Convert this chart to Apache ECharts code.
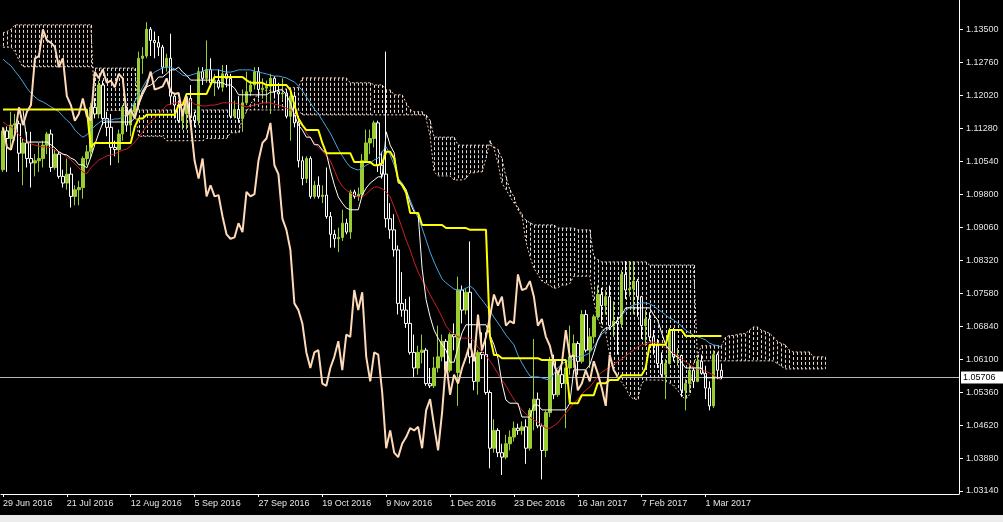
<!DOCTYPE html>
<html><head><meta charset="utf-8">
<script src="https://cdn.jsdelivr.net/npm/echarts@6/dist/echarts.min.js"></script>
<style>html,body{margin:0;padding:0;background:#000;overflow:hidden}#c{width:1003px;height:522px}</style>
</head><body><div id="c"></div>
<script>
// ---------- tick labels ----------
const tickLabels = ['29 Jun 2016','21 Jul 2016','12 Aug 2016','5 Sep 2016','27 Sep 2016','19 Oct 2016','9 Nov 2016','1 Dec 2016','23 Dec 2016','16 Jan 2017','7 Feb 2017','1 Mar 2017'];
const tickIdx = [0,16,32,48,64,80,96,112,128,144,160,176];
const priceTicks = [1.0314,1.0388,1.0462,1.0536,1.0610,1.0684,1.0758,1.0832,1.0906,1.0980,1.1054,1.1128,1.1202,1.1276,1.1350];
const lastPrice = 1.05706;
const slotCount = 240;

// ---------- daily candles [open, high, low, close] ----------
const candles = [
[1.1035,1.1130,1.1030,1.1122],[1.1122,1.1132,1.1030,1.1105],[1.1105,1.1165,1.1080,1.1135],[1.1135,1.1160,1.1100,1.1138],[1.1138,1.1145,1.1030,1.1072],
[1.1072,1.1105,1.1000,1.1095],[1.1095,1.1120,1.1040,1.1060],[1.1060,1.1120,1.0995,1.1050],[1.1050,1.1070,1.1020,1.1055],[1.1055,1.1095,1.1030,1.1060],
[1.1060,1.1100,1.1040,1.1090],[1.1090,1.1120,1.1070,1.1115],[1.1115,1.1125,1.1030,1.1040],[1.1040,1.1080,1.1035,1.1070],[1.1070,1.1075,1.1015,1.1020],
[1.1020,1.1035,1.0995,1.1005],[1.1005,1.1060,1.0990,1.1025],[1.1025,1.1040,1.0950,1.0975],[1.0975,1.1000,1.0955,1.0990],[1.0990,1.1010,1.0955,1.0995],
[1.0995,1.1065,1.0970,1.1060],[1.1060,1.1090,1.1045,1.1075],[1.1075,1.1185,1.1060,1.1175],[1.1175,1.1195,1.1150,1.1160],[1.1160,1.1235,1.1150,1.1225],
[1.1225,1.1235,1.1135,1.1150],[1.1150,1.1165,1.1110,1.1130],[1.1130,1.1160,1.1045,1.1085],[1.1085,1.1100,1.1065,1.1080],[1.1080,1.1125,1.1050,1.1115],
[1.1115,1.1180,1.1100,1.1175],[1.1175,1.1178,1.1120,1.1135],[1.1135,1.1170,1.1110,1.1165],[1.1165,1.1190,1.1155,1.1180],[1.1180,1.1300,1.1170,1.1285],
[1.1285,1.1310,1.1250,1.1290],[1.1290,1.1366,1.1285,1.1350],[1.1350,1.1355,1.1290,1.1325],[1.1325,1.1345,1.1285,1.1320],[1.1320,1.1335,1.1290,1.1310],
[1.1310,1.1315,1.1250,1.1265],[1.1265,1.1295,1.1255,1.1285],[1.1285,1.1340,1.1180,1.1200],[1.1200,1.1205,1.1150,1.1180],[1.1180,1.1190,1.1140,1.1145],
[1.1145,1.1165,1.1125,1.1160],[1.1160,1.1205,1.1125,1.1195],[1.1195,1.1225,1.1150,1.1155],[1.1155,1.1165,1.1130,1.1145],[1.1145,1.1265,1.1135,1.1255],
[1.1255,1.1265,1.1225,1.1240],[1.1240,1.1325,1.1230,1.1260],[1.1260,1.1285,1.1220,1.1230],[1.1230,1.1250,1.1200,1.1235],[1.1235,1.1260,1.1215,1.1220],
[1.1220,1.1270,1.1210,1.1250],[1.1250,1.1270,1.1220,1.1240],[1.1240,1.1250,1.1150,1.1155],[1.1155,1.1190,1.1150,1.1170],[1.1170,1.1200,1.1140,1.1150],
[1.1150,1.1215,1.1120,1.1185],[1.1185,1.1255,1.1180,1.1210],[1.1210,1.1235,1.1200,1.1225],[1.1225,1.1265,1.1215,1.1255],[1.1255,1.1265,1.1195,1.1215],
[1.1215,1.1240,1.1195,1.1218],[1.1218,1.1235,1.1190,1.1222],[1.1222,1.1250,1.1160,1.1240],[1.1240,1.1245,1.1195,1.1210],[1.1210,1.1230,1.1180,1.1205],
[1.1205,1.1240,1.1190,1.1207],[1.1207,1.1215,1.1150,1.1155],[1.1155,1.1205,1.1100,1.1200],[1.1200,1.1210,1.1130,1.1140],[1.1140,1.1155,1.1040,1.1055],
[1.1055,1.1065,1.1000,1.1015],[1.1015,1.1065,1.1005,1.1060],[1.1060,1.1065,1.0970,1.0975],[1.0975,1.1010,1.0970,1.1000],[1.1000,1.1020,1.0970,1.0975],
[1.0975,1.1000,1.0960,1.0978],[1.0978,1.1040,1.0925,1.0930],[1.0930,1.0940,1.0860,1.0890],[1.0890,1.0900,1.0860,1.0880],[1.0880,1.0905,1.0850,1.0883],
[1.0883,1.0945,1.0875,1.0915],[1.0915,1.0925,1.0890,1.0895],[1.0895,1.0990,1.0880,1.0985],[1.0985,1.0990,1.0970,1.0975],[1.0975,1.0995,1.0965,1.0980],
[1.0980,1.1070,1.0975,1.1055],[1.1055,1.1125,1.1050,1.1095],[1.1095,1.1125,1.1070,1.1105],[1.1105,1.1145,1.1085,1.1140],[1.1140,1.1145,1.1030,1.1045],
[1.1045,1.1075,1.1015,1.1025],[1.1025,1.1300,1.0905,1.0925],[1.0925,1.0960,1.0880,1.0900],[1.0900,1.0935,1.0840,1.0855],[1.0855,1.0865,1.0710,1.0735],
[1.0735,1.0805,1.0705,1.0720],[1.0720,1.0745,1.0680,1.0690],[1.0690,1.0750,1.0620,1.0625],[1.0625,1.0665,1.0570,1.0590],[1.0590,1.0640,1.0575,1.0625],
[1.0625,1.0665,1.0600,1.0630],[1.0630,1.0635,1.0550,1.0555],[1.0555,1.0590,1.0545,1.0550],[1.0550,1.0615,1.0545,1.0590],[1.0590,1.0685,1.0580,1.0615],
[1.0615,1.0665,1.0605,1.0650],[1.0650,1.0655,1.0580,1.0585],[1.0585,1.0670,1.0580,1.0665],[1.0665,1.0690,1.0630,1.0660],[1.0580,1.0795,1.0505,1.0765],
[1.0765,1.0775,1.0690,1.0720],[1.0720,1.0770,1.0710,1.0760],[1.0760,1.0874,1.0600,1.0615],[1.0615,1.0620,1.0540,1.0560],[1.0560,1.0630,1.0530,1.0625],
[1.0625,1.0670,1.0610,1.0620],[1.0620,1.0670,1.0530,1.0535],[1.0535,1.0540,1.0365,1.0410],[1.0410,1.0475,1.0400,1.0450],[1.0450,1.0455,1.0390,1.0400],
[1.0400,1.0420,1.0350,1.0390],[1.0390,1.0440,1.0385,1.0420],[1.0420,1.0450,1.0405,1.0435],[1.0435,1.0470,1.0425,1.0455],[1.0455,1.0465,1.0440,1.0450],
[1.0450,1.0470,1.0440,1.0458],[1.0458,1.0475,1.0375,1.0410],[1.0410,1.0500,1.0405,1.0495],[1.0495,1.0655,1.0450,1.0520],[1.0520,1.0535,1.0455,1.0460],
[1.0460,1.0465,1.0340,1.0405],[1.0405,1.0495,1.0390,1.0490],[1.0490,1.0615,1.0480,1.0605],[1.0605,1.0620,1.0520,1.0530],[1.0530,1.0585,1.0525,1.0575],
[1.0575,1.0600,1.0545,1.0555],[1.0555,1.0590,1.0455,1.0590],[1.0590,1.0685,1.0575,1.0615],[1.0615,1.0665,1.0590,1.0645],[1.0645,1.0650,1.0575,1.0605],
[1.0605,1.0720,1.0600,1.0710],[1.0710,1.0720,1.0625,1.0630],[1.0630,1.0680,1.0590,1.0660],[1.0660,1.0710,1.0645,1.0705],[1.0705,1.0775,1.0700,1.0755],
[1.0755,1.0770,1.0690,1.0730],[1.0730,1.0765,1.0710,1.0750],[1.0750,1.0775,1.0675,1.0685],[1.0685,1.0740,1.0660,1.0695],[1.0695,1.0705,1.0620,1.0690],
[1.0690,1.0810,1.0680,1.0800],[1.0800,1.0830,1.0745,1.0765],[1.0765,1.0830,1.0750,1.0768],[1.0768,1.0830,1.0710,1.0785],[1.0785,1.0790,1.0705,1.0750],
[1.0750,1.0752,1.0655,1.0685],[1.0685,1.0720,1.0640,1.0700],[1.0700,1.0715,1.0650,1.0660],[1.0660,1.0675,1.0620,1.0640],[1.0640,1.0655,1.0590,1.0600],
[1.0600,1.0625,1.0570,1.0575],[1.0575,1.0610,1.0520,1.0600],[1.0600,1.0680,1.0598,1.0675],[1.0675,1.0680,1.0605,1.0615],[1.0615,1.0635,1.0595,1.0618],
[1.0618,1.0620,1.0525,1.0540],[1.0540,1.0565,1.0495,1.0555],[1.0555,1.0600,1.0535,1.0585],[1.0585,1.0590,1.0545,1.0560],[1.0560,1.0615,1.0558,1.0605],
[1.0605,1.0620,1.0575,1.0578],[1.0578,1.0595,1.0520,1.0545],[1.0545,1.0560,1.0495,1.0505],[1.0505,1.0630,1.0500,1.0620],[1.0620,1.0625,1.0565,1.0585],
[1.0585,1.0600,1.0565,1.05706]
];

// ---------- Ichimoku lines ----------
const tenkan = [
1.1170,1.1170,1.1170,1.1170,1.1170,1.1170,1.1097,1.1097,1.1097,1.1097,
1.1097,1.1097,1.1091,1.1084,1.1075,1.1070,1.1068,1.1061,1.1057,1.1046,
1.1046,1.1039,1.1063,1.1091,1.1117,1.1140,1.1142,1.1142,1.1142,1.1142,
1.1142,1.1142,1.1142,1.1151,1.1180,1.1203,1.1221,1.1225,1.1232,1.1243,
1.1243,1.1250,1.1259,1.1259,1.1265,1.1254,1.1247,1.1236,1.1236,1.1236,
1.1236,1.1236,1.1236,1.1230,1.1230,1.1230,1.1225,1.1225,1.1218,1.1203,
1.1203,1.1203,1.1203,1.1203,1.1203,1.1203,1.1203,1.1209,1.1209,1.1214,
1.1214,1.1203,1.1185,1.1158,1.1135,1.1124,1.1108,1.1108,1.1091,1.1091,
1.1079,1.1072,1.1034,1.1001,1.0974,1.0960,1.0949,1.0945,1.0945,1.0945,
1.0978,1.0994,1.1005,1.1012,1.1019,1.1019,1.1120,1.1090,1.1073,1.1005,
1.1003,1.0990,1.0960,1.0940,1.0935,1.0813,1.0743,1.0705,1.0675,1.0657,
1.0642,1.0630,1.0603,1.0603,1.0637,1.0669,1.0687,1.0687,1.0687,1.0687,
1.0687,1.0687,1.0664,1.0642,1.0612,1.0556,1.0518,1.0511,1.0511,1.0511,
1.0480,1.0480,1.0480,1.0507,1.0507,1.0496,1.0496,1.0496,1.0496,1.0496,
1.0496,1.0496,1.0511,1.0586,1.0586,1.0586,1.0586,1.0597,1.0624,1.0653,
1.0671,1.0680,1.0680,1.0687,1.0698,1.0709,1.0725,1.0725,1.0725,1.0725,
1.0725,1.0725,1.0725,1.0709,1.0698,1.0669,1.0642,1.0630,1.0619,1.0615,
1.0603,1.0590,1.0590,1.0590,1.0590,1.0590,1.0568,1.0568,1.0568,1.0568,
1.0568
];
const kijun = [
1.1170,1.1170,1.1170,1.1170,1.1170,1.1170,1.1170,1.1170,1.1170,1.1170,
1.1170,1.1170,1.1170,1.1170,1.1170,1.1170,1.1170,1.1170,1.1170,1.1170,
1.1170,1.1170,1.1085,1.1095,1.1095,1.1095,1.1095,1.1095,1.1095,1.1095,
1.1095,1.1095,1.1095,1.1131,1.1150,1.1150,1.1158,1.1158,1.1158,1.1158,
1.1158,1.1158,1.1158,1.1158,1.1180,1.1180,1.1205,1.1205,1.1205,1.1205,
1.1205,1.1205,1.1225,1.1243,1.1243,1.1243,1.1243,1.1243,1.1243,1.1243,
1.1243,1.1236,1.1230,1.1230,1.1230,1.1230,1.1225,1.1225,1.1225,1.1225,
1.1225,1.1225,1.1214,1.1180,1.1150,1.1135,1.1124,1.1124,1.1124,1.1124,
1.1095,1.1072,1.1072,1.1072,1.1072,1.1072,1.1072,1.1072,1.1052,1.1052,
1.1052,1.1052,1.1052,1.1045,1.1045,1.1050,1.1075,1.1075,1.1060,1.1012,
1.1000,1.0983,1.0938,1.0938,1.0938,1.0911,1.0911,1.0911,1.0911,1.0911,
1.0911,1.0904,1.0904,1.0904,1.0904,1.0904,1.0904,1.0900,1.0900,1.0900,
1.0900,1.0900,1.0660,1.0619,1.0619,1.0612,1.0612,1.0612,1.0612,1.0612,
1.0612,1.0612,1.0612,1.0612,1.0612,1.0608,1.0608,1.0608,1.0608,1.0608,
1.0608,1.0608,1.0511,1.0511,1.0511,1.0529,1.0529,1.0529,1.0529,1.0556,
1.0556,1.0556,1.0563,1.0563,1.0563,1.0574,1.0574,1.0574,1.0574,1.0574,
1.0574,1.0590,1.0642,1.0642,1.0642,1.0642,1.0642,1.0675,1.0675,1.0675,
1.0675,1.0662,1.0662,1.0662,1.0662,1.0662,1.0662,1.0662,1.0662,1.0662,
1.0662
];
// Senkou spans (already shifted 26 bars forward, 207 bars)
const spanA = [
1.1342,1.1345,1.1350,1.1360,1.1360,1.1360,1.1360,1.1360,1.1360,1.1360,
1.1360,1.1360,1.1360,1.1360,1.1360,1.1360,1.1360,1.1360,1.1360,1.1360,
1.1360,1.1360,1.1360,1.1168,1.1168,1.1168,1.1168,1.1168,1.1168,1.1168,
1.1168,1.1168,1.1168,1.1168,1.1110,1.1110,1.1110,1.1110,1.1110,1.1110,
1.1110,1.1100,1.1100,1.1100,1.1100,1.1100,1.1100,1.1100,1.1100,1.1100,
1.1100,1.1105,1.1105,1.1105,1.1105,1.1105,1.1105,1.1118,1.1118,1.1118,
1.1150,1.1165,1.1182,1.1195,1.1205,1.1213,1.1213,1.1213,1.1213,1.1213,
1.1216,1.1216,1.1219,1.1219,1.1219,1.1241,1.1241,1.1241,1.1241,1.1241,
1.1241,1.1241,1.1241,1.1241,1.1241,1.1241,1.1241,1.1230,1.1230,1.1230,
1.1230,1.1230,1.1230,1.1225,1.1225,1.1225,1.1214,1.1214,1.1203,1.1203,
1.1203,1.1185,1.1170,1.1165,1.1165,1.1165,1.1150,1.1110,1.1030,1.1021,
1.1021,1.1021,1.1021,1.1012,1.1012,1.1012,1.1015,1.1028,1.1028,1.1030,
1.1030,1.1060,1.1100,1.1083,1.1050,1.1005,1.0990,1.0975,1.0960,1.0950,
1.0935,1.0874,1.0840,1.0814,1.0800,1.0785,1.0780,1.0775,1.0769,1.0770,
1.0776,1.0776,1.0780,1.0796,1.0796,1.0796,1.0796,1.0796,1.0740,1.0700,
1.0680,1.0669,1.0620,1.0590,1.0565,1.0558,1.0545,1.0527,1.0520,1.0520,
1.0556,1.0563,1.0563,1.0563,1.0563,1.0563,1.0560,1.0556,1.0550,1.0540,
1.0527,1.0520,1.0530,1.0600,1.0620,1.0640,1.0640,1.0640,1.0640,1.0640,
1.0640,1.0659,1.0663,1.0663,1.0665,1.0667,1.0667,1.0675,1.0682,1.0682,
1.0675,1.0672,1.0668,1.0660,1.0650,1.0645,1.0642,1.0630,1.0626,1.0626,
1.0626,1.0626,1.0626,1.0615,1.0615,1.0615,1.0615
];
const spanB = [
1.1310,1.1310,1.1310,1.1300,1.1281,1.1266,1.1266,1.1266,1.1266,1.1266,
1.1266,1.1266,1.1266,1.1266,1.1266,1.1266,1.1266,1.1266,1.1266,1.1266,
1.1266,1.1266,1.1266,1.1263,1.1263,1.1263,1.1263,1.1263,1.1263,1.1263,
1.1263,1.1263,1.1263,1.1263,1.1169,1.1169,1.1169,1.1169,1.1169,1.1169,
1.1169,1.1169,1.1169,1.1169,1.1169,1.1169,1.1169,1.1169,1.1169,1.1169,
1.1169,1.1169,1.1169,1.1169,1.1169,1.1169,1.1169,1.1169,1.1169,1.1169,
1.1169,1.1169,1.1169,1.1169,1.1169,1.1169,1.1169,1.1169,1.1169,1.1169,
1.1169,1.1169,1.1169,1.1169,1.1169,1.1158,1.1158,1.1158,1.1158,1.1158,
1.1158,1.1158,1.1158,1.1158,1.1158,1.1158,1.1158,1.1158,1.1158,1.1158,
1.1158,1.1158,1.1158,1.1158,1.1158,1.1158,1.1158,1.1158,1.1158,1.1158,
1.1158,1.1158,1.1158,1.1158,1.1158,1.1158,1.1158,1.1145,1.1108,1.1108,
1.1108,1.1108,1.1108,1.1108,1.1090,1.1090,1.1090,1.1090,1.1090,1.1090,
1.1090,1.1090,1.1090,1.1086,1.1080,1.1060,1.1019,1.0990,1.0974,1.0945,
1.0930,1.0922,1.0916,1.0911,1.0911,1.0911,1.0911,1.0911,1.0911,1.0904,
1.0904,1.0904,1.0904,1.0904,1.0900,1.0900,1.0900,1.0900,1.0840,1.0833,
1.0828,1.0828,1.0828,1.0828,1.0828,1.0828,1.0828,1.0828,1.0828,1.0828,
1.0828,1.0828,1.0821,1.0821,1.0821,1.0821,1.0821,1.0821,1.0821,1.0821,
1.0821,1.0821,1.0821,1.0821,1.0606,1.0606,1.0606,1.0606,1.0606,1.0606,
1.0606,1.0606,1.0606,1.0606,1.0606,1.0606,1.0606,1.0606,1.0606,1.0606,
1.0606,1.0606,1.0606,1.0606,1.0600,1.0594,1.0588,1.0588,1.0588,1.0588,
1.0588,1.0588,1.0588,1.0588,1.0588,1.0588,1.0588
];
// two moving averages
const maBlue = [
1.1283,1.1275,1.1268,1.1256,1.1245,1.1232,1.1218,1.1207,1.1198,1.1191,
1.1187,1.1182,1.1176,1.1171,1.1165,1.1155,1.1146,1.1138,1.1124,1.1115,
1.1108,1.1113,1.1124,1.1133,1.1140,1.1146,1.1146,1.1146,1.1149,1.1149,
1.1153,1.1160,1.1173,1.1187,1.1205,1.1220,1.1236,1.1247,1.1254,1.1259,
1.1263,1.1265,1.1265,1.1261,1.1254,1.1247,1.1245,1.1247,1.1250,1.1252,
1.1256,1.1259,1.1259,1.1259,1.1259,1.1256,1.1254,1.1254,1.1256,1.1259,
1.1259,1.1259,1.1259,1.1256,1.1254,1.1252,1.1250,1.1247,1.1245,1.1245,
1.1243,1.1241,1.1236,1.1232,1.1223,1.1212,1.1198,1.1185,1.1171,1.1160,
1.1146,1.1131,1.1117,1.1099,1.1081,1.1066,1.1052,1.1041,1.1037,1.1034,
1.1039,1.1045,1.1050,1.1057,1.1061,1.1075,1.1086,1.1068,1.1045,1.1016,
1.1005,1.0989,1.0967,1.0945,1.0927,1.0904,1.0877,1.0850,1.0828,1.0808,
1.0790,1.0781,1.0774,1.0767,1.0765,1.0765,1.0769,1.0774,1.0767,1.0754,
1.0743,1.0731,1.0718,1.0704,1.0691,1.0678,1.0664,1.0653,1.0642,1.0619,
1.0601,1.0586,1.0572,1.0570,1.0570,1.0568,1.0565,1.0563,1.0577,1.0590,
1.0599,1.0604,1.0608,1.0610,1.0615,1.0617,1.0619,1.0624,1.0637,1.0651,
1.0666,1.0673,1.0680,1.0687,1.0698,1.0709,1.0718,1.0727,1.0731,1.0734,
1.0736,1.0736,1.0734,1.0729,1.0722,1.0716,1.0709,1.0702,1.0698,1.0691,
1.0684,1.0675,1.0669,1.0664,1.0660,1.0657,1.0653,1.0646,1.0642,1.0640,
1.0637
];
const maRed = [
1.1142,1.1135,1.1131,1.1124,1.1113,1.1104,1.1097,1.1093,1.1090,1.1088,
1.1086,1.1086,1.1084,1.1079,1.1075,1.1070,1.1064,1.1057,1.1048,1.1039,
1.1030,1.1026,1.1039,1.1048,1.1057,1.1061,1.1066,1.1068,1.1070,1.1075,
1.1079,1.1081,1.1088,1.1097,1.1108,1.1120,1.1133,1.1142,1.1151,1.1160,
1.1169,1.1180,1.1182,1.1185,1.1185,1.1187,1.1189,1.1189,1.1182,1.1180,
1.1178,1.1178,1.1180,1.1180,1.1182,1.1185,1.1185,1.1185,1.1185,1.1182,
1.1178,1.1176,1.1178,1.1180,1.1182,1.1185,1.1185,1.1185,1.1182,1.1180,
1.1178,1.1173,1.1169,1.1162,1.1151,1.1137,1.1117,1.1106,1.1095,1.1086,
1.1077,1.1066,1.1055,1.1034,1.1012,1.0998,1.0989,1.0983,1.0978,1.0974,
1.0974,1.0980,1.0989,1.0996,1.0996,1.0992,1.0985,1.0974,1.0951,1.0929,
1.0904,1.0877,1.0855,1.0828,1.0805,1.0787,1.0772,1.0754,1.0738,1.0722,
1.0704,1.0684,1.0673,1.0666,1.0660,1.0657,1.0657,1.0657,1.0651,1.0637,
1.0626,1.0617,1.0606,1.0592,1.0577,1.0563,1.0550,1.0534,1.0520,1.0507,
1.0496,1.0487,1.0480,1.0473,1.0469,1.0462,1.0455,1.0455,1.0460,1.0467,
1.0478,1.0489,1.0500,1.0511,1.0520,1.0531,1.0541,1.0547,1.0559,1.0572,
1.0581,1.0586,1.0592,1.0599,1.0604,1.0610,1.0617,1.0624,1.0630,1.0637,
1.0642,1.0644,1.0648,1.0648,1.0646,1.0642,1.0635,1.0630,1.0624,1.0617,
1.0610,1.0604,1.0597,1.0592,1.0588,1.0586,1.0583,1.0579,1.0574,1.0568,
1.0563
];
const chikouShift = 26;

// ---------- build ----------
const slots = [];
for (let i = 0; i < slotCount; i++) slots.push(String(i));
const candleData = candles.map(c => [c[0], c[3], c[2], c[1]]);
const chikou = candles.slice(chikouShift).map(c => c[3]);
const cloudData = spanA.map((a, i) => [i, a, spanB[i]]);

const font = 'Liberation Sans, Arial, sans-serif';
const isTick = i => tickIdx.indexOf(i) >= 0;
const stripRect = {type: 'rect', shape: {x: 0, y: 515, width: 1003, height: 7}, style: {fill: '#ececec'}, z: 100};

const chart = echarts.init(document.getElementById('c'), null, {renderer: 'canvas'});
chart.setOption({
  backgroundColor: '#000',
  animation: false,
  grid: {left: -3, right: 44, top: 0, bottom: 28, containLabel: false},
  xAxis: {
    type: 'category', data: slots, boundaryGap: true,
    axisLine: {show: true, lineStyle: {color: '#ffffff', width: 1}},
    axisTick: {show: true, alignWithLabel: true, length: 3, interval: (i) => isTick(i), lineStyle: {color: '#ffffff'}},
    axisLabel: {show: true, interval: (i) => isTick(i), align: 'left', margin: 5, color: '#e4e4e4', fontSize: 9, fontFamily: font,
      formatter: (v) => { const k = tickIdx.indexOf(Number(v)); return k >= 0 ? tickLabels[k] : ''; }},
    splitLine: {show: false}
  },
  yAxis: {
    type: 'value', position: 'right', min: 1.030727, max: 1.141575, scale: true,
    axisLine: {show: true, lineStyle: {color: '#ffffff', width: 1}},
    axisTick: {show: true, length: 4, customValues: priceTicks, lineStyle: {color: '#ffffff'}},
    axisLabel: {show: true, customValues: priceTicks, margin: 7, color: '#e4e4e4', fontSize: 9, fontFamily: font,
      formatter: (v) => v.toFixed(5)},
    splitLine: {show: false}
  },
  graphic: [stripRect],
  series: [
    {
      type: 'custom', name: 'cloud', z: 1, silent: true, clip: true,
      data: cloudData, encode: {x: 0, y: [1, 2]},
      renderItem: function (params, api) {
        const i = api.value(0), a = api.value(1), b = api.value(2);
        const p1 = api.coord([i, a]), p2 = api.coord([i, b]);
        const x = Math.round(p1[0]) + 0.5;
        return {type: 'line', shape: {x1: x, y1: Math.min(p1[1], p2[1]), x2: x, y2: Math.max(p1[1], p2[1])},
          style: {stroke: a >= b ? '#e8d6cc' : '#dcdcdc', lineWidth: 1, lineDash: [3, 2]}};
      }
    },
    {type: 'line', name: 'spanA', data: spanA, z: 2, symbol: 'none', silent: true,
      lineStyle: {color: '#f4c8a8', width: 1, type: [2, 2]}},
    {type: 'line', name: 'spanB', data: spanB, z: 2, symbol: 'none', silent: true,
      lineStyle: {color: '#f0d8d0', width: 1, type: [2, 2]}},
    {
      type: 'candlestick', name: 'price', data: candleData, z: 3, barWidth: 3,
      itemStyle: {color: '#9acd32', borderColor: '#9acd32', color0: '#000000', borderColor0: '#ffffff', borderColorDoji: '#ffffff', borderWidth: 1}
    },
    {type: 'line', name: 'maRed', data: maRed, z: 4, symbol: 'none', silent: true, lineStyle: {color: '#cc2020', width: 1}},
    {type: 'line', name: 'maBlue', data: maBlue, z: 4, symbol: 'none', silent: true, lineStyle: {color: '#46a6de', width: 1}},
    {type: 'line', name: 'tenkan', data: tenkan, z: 5, symbol: 'none', silent: true, lineStyle: {color: '#ffffff', width: 1}},
    {type: 'line', name: 'kijun', data: kijun, z: 6, symbol: 'none', silent: true, lineStyle: {color: '#ffff00', width: 2}},
    {type: 'line', name: 'chikou', data: chikou, z: 6, symbol: 'none', silent: true, lineStyle: {color: '#ffdab9', width: 2}}
  ]
});

// current-price line and its label, placed through the value axis scale
const py = Math.round(chart.convertToPixel({yAxisIndex: 0}, lastPrice)) + 0.5;
const gridRight = 1003 - 44;
chart.setOption({
  graphic: [
    stripRect,
    {type: 'line', shape: {x1: 0, y1: py, x2: gridRight, y2: py}, style: {stroke: '#b8b8b8', lineWidth: 1}, z: 2, silent: true},
    {type: 'rect', shape: {x: gridRight + 2, y: py - 6, width: 42, height: 12}, style: {fill: '#ffffff'}, z: 50, silent: true},
    {type: 'text', x: gridRight + 4, y: py, style: {text: lastPrice.toFixed(5), fill: '#000000', font: '9px ' + font, verticalAlign: 'middle', align: 'left'}, z: 51, silent: true}
  ]
});
</script>
</body></html>
